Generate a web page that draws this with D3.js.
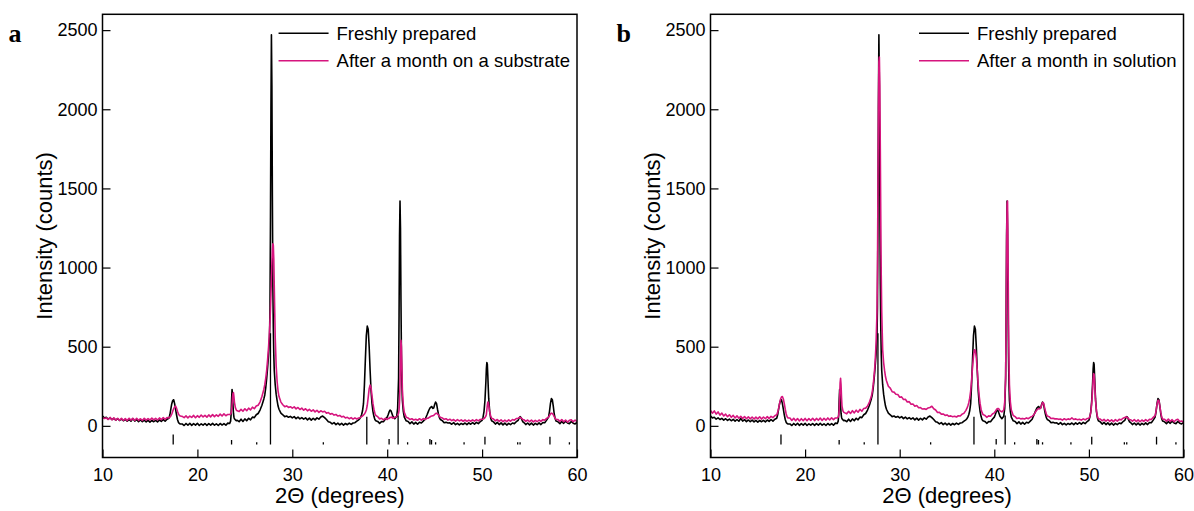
<!DOCTYPE html>
<html lang="en">
<head>
<meta charset="UTF-8">
<title>XRD patterns</title>
<script src="https://cdn.jsdelivr.net/npm/d3@7"></script>
<style>
  body { margin: 0; background: #fff; overflow: hidden; }
  svg { display: block; }
  text { font-family: "Liberation Sans", Arial, sans-serif; fill: #000; }
  .tick text { font-family: "Liberation Sans", Arial, sans-serif; font-size: 18px; }
  .tick line { stroke: #000; stroke-width: 1.2; }
  .domain { display: none; }
  .letter { font-family: "Liberation Serif", "Times New Roman", serif; font-weight: bold; font-size: 26px; }
</style>
</head>
<body>
<svg id="chart" width="1194" height="511"></svg>
<script>
// 2-theta grid, split in segments (finer steps across the peaks)
const twoTheta = [
  [10.0, 10.2, 10.4, 10.6, 10.8, 11.0, 11.2, 11.4, 11.6, 11.8, 12.0, 12.2, 12.4, 12.6, 12.8, 13.0, 13.2, 13.4, 13.6, 13.8, 14.0, 14.2, 14.4, 14.6, 14.8, 15.0, 15.2, 15.4, 15.6, 15.8, 16.0, 16.2, 16.4, 16.6, 16.8, 17.0],
  [17.1, 17.2, 17.3, 17.4, 17.5, 17.6, 17.7, 17.8, 17.9, 18.0, 18.1, 18.2],
  [18.4, 18.6, 18.8, 19.0, 19.2, 19.4, 19.6, 19.8, 20.0, 20.2, 20.4, 20.6, 20.8, 21.0, 21.2, 21.4, 21.6, 21.8, 22.0, 22.2, 22.4, 22.6, 22.8, 23.0, 23.2],
  [23.4, 23.5, 23.55, 23.6, 23.65, 23.7, 23.75, 23.8, 23.85, 23.9, 24.0, 24.1, 24.2],
  [24.4, 24.6, 24.8, 25.0, 25.2, 25.4, 25.6, 25.8, 26.0, 26.2, 26.4, 26.6, 26.8, 27.0],
  [27.1, 27.2, 27.3, 27.4, 27.5, 27.6, 27.65, 27.7, 27.75, 27.8, 27.85, 27.9, 27.95, 28.0, 28.05, 28.1, 28.2, 28.3, 28.4, 28.5, 28.6, 28.8],
  [29.0, 29.2, 29.4, 29.6, 29.8, 30.0, 30.2, 30.4, 30.6, 30.8, 31.0, 31.2, 31.4, 31.6, 31.8, 32.0, 32.2, 32.4, 32.6, 32.8, 33.0, 33.2, 33.4, 33.6, 33.8, 34.0, 34.2, 34.4, 34.6, 34.8, 35.0, 35.2, 35.4, 35.6, 35.8, 36.0, 36.2, 36.4, 36.6, 36.8, 37.0],
  [37.1, 37.2, 37.3, 37.4, 37.5, 37.6, 37.7, 37.8, 37.9, 38.0, 38.1, 38.2, 38.3, 38.4, 38.5, 38.6, 38.7, 38.8],
  [39.0, 39.2, 39.4, 39.6, 39.8, 40.0, 40.1, 40.2, 40.3, 40.4, 40.5, 40.6, 40.8, 41.0, 41.1, 41.2, 41.25, 41.3, 41.35, 41.4, 41.45, 41.5, 41.55, 41.6, 41.7, 41.8, 42.0],
  [42.2, 42.4, 42.6, 42.8, 43.0, 43.2, 43.4, 43.6, 43.8, 44.0, 44.2],
  [44.3, 44.4, 44.5, 44.6, 44.7, 44.8, 44.9, 45.0, 45.1, 45.2, 45.3, 45.4, 45.5, 45.6],
  [45.8, 46.0, 46.2, 46.4, 46.6, 46.8, 47.0, 47.2, 47.4, 47.6, 47.8, 48.0, 48.2, 48.4, 48.6, 48.8, 49.0, 49.2, 49.4, 49.6, 49.8, 50.0],
  [50.1, 50.2, 50.3, 50.4, 50.45, 50.5, 50.55, 50.6, 50.65, 50.7, 50.8, 50.9, 51.0],
  [51.2, 51.4, 51.6, 51.8, 52.0, 52.2, 52.4, 52.6, 52.8, 53.0, 53.2, 53.4, 53.6],
  [53.8, 53.9, 54.0, 54.1, 54.2, 54.3],
  [54.4, 54.6, 54.8, 55.0, 55.2, 55.4, 55.6, 55.8, 56.0, 56.2, 56.4, 56.6, 56.8, 57.0],
  [57.1, 57.2, 57.3, 57.4, 57.5, 57.6, 57.7, 57.8],
  [58.0, 58.2, 58.4, 58.6, 58.8, 59.0, 59.2, 59.4, 59.6, 59.8, 60.0]
];

const freshlyPrepared = [
  [62, 50, 54, 42, 50, 40, 47, 36, 45, 34, 43, 32, 41, 30, 40, 29, 46, 30, 39, 27, 37, 26, 36, 25, 35, 24, 34, 26, 35, 25, 37, 28, 40, 30, 42, 48],
  [70, 105, 140, 160, 165, 140, 105, 70, 40, 22, 15, 12],
  [12, 2, 15, 4, 16, 3, 14, 5, 16, 2, 13, 4, 15, 3, 14, 5, 16, 4, 13, 2, 15, 5, 14, 4, 17],
  [15, 30, 70, 160, 230, 200, 130, 80, 55, 45, 38, 32, 35],
  [26, 42, 28, 44, 32, 48, 38, 55, 52, 70, 78, 100, 130, 170],
  [195, 240, 300, 370, 450, 560, 750, 1300, 2000, 2470, 2150, 1450, 900, 620, 450, 350, 260, 200, 160, 125, 105, 80],
  [70, 58, 62, 54, 60, 50, 58, 46, 55, 44, 52, 42, 50, 38, 49, 36, 48, 38, 50, 42, 56, 62, 52, 40, 26, 22, 12, 20, 8, 17, 6, 16, 5, 15, 7, 17, 9, 18, 20, 30, 38],
  [45, 55, 70, 95, 140, 260, 420, 570, 630, 610, 500, 350, 220, 140, 90, 60, 40, 32],
  [28, 16, 27, 26, 42, 55, 70, 88, 100, 95, 78, 60, 45, 60, 110, 300, 700, 1200, 1420, 1250, 800, 450, 260, 160, 90, 55, 32],
  [28, 14, 25, 11, 22, 10, 23, 18, 30, 42, 70],
  [85, 100, 112, 118, 122, 110, 112, 135, 150, 140, 105, 75, 52, 40],
  [33, 20, 22, 18, 19, 10, 20, 8, 16, 6, 15, 9, 18, 8, 19, 10, 21, 11, 22, 14, 26, 35],
  [55, 90, 160, 280, 360, 400, 390, 320, 240, 170, 90, 50, 32],
  [25, 11, 22, 8, 19, 6, 17, 5, 16, 8, 18, 14, 26],
  [35, 50, 58, 52, 38, 25],
  [21, 8, 18, 6, 17, 5, 16, 7, 19, 8, 21, 20, 36, 55],
  [90, 140, 172, 165, 125, 75, 45, 30],
  [25, 14, 27, 16, 29, 18, 14, 28, 17, 12, 22]
];

const monthOnSubstrate = [
  [52, 46, 50, 40, 53, 38, 50, 36, 48, 35, 47, 34, 46, 33, 48, 36, 47, 34, 48, 35, 45, 34, 48, 36, 46, 37, 49, 38, 48, 37, 50, 39, 52, 41, 53, 50],
  [55, 62, 75, 92, 108, 120, 125, 112, 92, 75, 66, 62],
  [60, 52, 63, 50, 62, 53, 66, 51, 64, 54, 68, 56, 66, 55, 69, 57, 71, 58, 70, 60, 74, 62, 76, 64, 72],
  [72, 75, 80, 95, 130, 180, 205, 210, 185, 150, 115, 100, 95],
  [90, 104, 92, 108, 96, 112, 101, 118, 108, 125, 130, 150, 185, 230],
  [260, 300, 350, 420, 500, 600, 660, 740, 830, 930, 1030, 1110, 1150, 1140, 1050, 880, 560, 380, 280, 220, 185, 150],
  [133, 121, 126, 116, 121, 112, 120, 107, 116, 103, 112, 99, 108, 95, 104, 92, 101, 88, 98, 85, 95, 88, 92, 80, 84, 74, 78, 68, 72, 62, 66, 56, 60, 50, 54, 45, 52, 42, 50, 43, 50],
  [50, 55, 58, 62, 68, 75, 85, 100, 130, 180, 235, 258, 240, 190, 140, 105, 80, 65],
  [58, 44, 48, 38, 48, 40, 47, 46, 54, 53, 56, 48, 54, 58, 65, 80, 100, 150, 260, 420, 540, 500, 360, 230, 130, 85, 55],
  [50, 40, 45, 37, 42, 35, 45, 36, 46, 40, 48],
  [48, 52, 56, 60, 62, 64, 66, 72, 78, 80, 76, 68, 60, 54],
  [50, 41, 45, 36, 42, 33, 40, 30, 39, 31, 38, 29, 37, 28, 36, 29, 38, 30, 39, 31, 40, 42],
  [42, 46, 52, 62, 72, 100, 130, 150, 148, 130, 90, 62, 48],
  [43, 31, 40, 28, 38, 26, 36, 27, 38, 29, 40, 36, 46],
  [48, 52, 54, 50, 45, 40],
  [39, 28, 37, 26, 36, 25, 35, 26, 37, 28, 39, 36, 47, 55],
  [65, 75, 80, 78, 70, 58, 48, 40],
  [39, 28, 40, 26, 37, 24, 35, 38, 26, 36, 26]
];

const monthInSolution = [
  [98, 80, 94, 74, 88, 68, 80, 62, 74, 58, 70, 54, 66, 50, 63, 48, 60, 46, 59, 45, 57, 44, 56, 43, 55, 44, 57, 43, 56, 45, 58, 46, 60, 52, 64, 70],
  [85, 110, 140, 168, 182, 185, 170, 140, 105, 75, 58, 50],
  [50, 34, 48, 32, 46, 31, 45, 33, 47, 32, 46, 34, 48, 33, 47, 35, 49, 34, 48, 36, 50, 37, 51, 39, 50],
  [50, 55, 65, 100, 180, 270, 300, 260, 180, 125, 95, 85, 82],
  [76, 92, 78, 96, 82, 99, 86, 104, 92, 110, 112, 125, 150, 185],
  [215, 260, 320, 400, 520, 720, 1000, 1500, 2000, 2300, 2330, 2150, 1750, 1300, 950, 720, 480, 400, 350, 310, 285, 250],
  [238, 216, 213, 200, 198, 181, 183, 166, 168, 151, 153, 136, 138, 124, 128, 114, 115, 106, 108, 104, 113, 116, 124, 108, 100, 84, 85, 74, 75, 66, 69, 60, 63, 58, 61, 56, 64, 62, 74, 80, 98],
  [110, 125, 145, 175, 220, 290, 370, 440, 480, 478, 430, 350, 260, 190, 140, 105, 85, 72],
  [66, 54, 63, 61, 75, 82, 90, 100, 108, 110, 105, 95, 88, 100, 150, 320, 650, 1150, 1400, 1420, 1100, 700, 420, 260, 150, 100, 65],
  [58, 46, 50, 44, 47, 43, 50, 45, 54, 60, 72],
  [82, 92, 100, 106, 110, 108, 112, 130, 148, 145, 120, 95, 75, 62],
  [58, 46, 48, 44, 45, 41, 43, 36, 45, 38, 44, 40, 50, 40, 44, 39, 42, 36, 44, 38, 46, 48],
  [60, 85, 140, 240, 300, 330, 325, 280, 220, 160, 95, 60, 45],
  [43, 32, 41, 29, 40, 28, 38, 27, 39, 30, 41, 38, 48],
  [52, 56, 55, 50, 44, 40],
  [39, 29, 40, 27, 38, 26, 37, 28, 39, 30, 41, 40, 54, 65],
  [95, 135, 162, 160, 125, 85, 55, 42],
  [41, 30, 43, 28, 39, 26, 37, 42, 28, 31, 22]
];

// reference pattern sticks (position, relative intensity %)
const refAngles = [17.45, 23.6, 26.25, 27.7, 33.27, 37.85, 40.2, 41.15, 42.15, 44.5, 44.67, 45.1, 48.1, 50.3, 53.75, 54.0, 57.15, 59.2];
const refIntensity = [9, 4, 2, 100, 2, 25, 5, 26, 2, 5, 4, 2, 2, 7, 2, 2, 7, 2];

const xTicks = [10, 20, 30, 40, 50, 60];
const yTicks = [0, 500, 1000, 1500, 2000, 2500];
const freshLabel = "Freshly prepared";
const substrateLabel = "After a month on a substrate";
const solutionLabel = "After a month in solution";
const xTitle = "2\u0398 (degrees)";
const yTitle = "Intensity (counts)";

function zipSeries(values, name) {
  let out = [];
  twoTheta.forEach((seg, i) => {
    if (seg.length !== values[i].length) throw new Error(name + " segment " + i + ": " + values[i].length + " vs " + seg.length);
    seg.forEach((t, j) => out.push([t, values[i][j]]));
  });
  return out;
}

const fresh = zipSeries(freshlyPrepared, "fresh");
const substrate = zipSeries(monthOnSubstrate, "substrate");
const solution = zipSeries(monthInSolution, "solution");

const pink = "#d6157e";
const svg = d3.select("#chart");
const plotTop = 14.3, plotBottom = 457.5;

const panels = [
  {letter: "a", left: 102.5, right: 577, aged: substrate, label: substrateLabel, id: "clipA"},
  {letter: "b", left: 710.5, right: 1183.5, aged: solution, label: solutionLabel, id: "clipB"}
];

panels.forEach(p => {
  let x = d3.scaleLinear().domain([10, 60]).range([p.left, p.right]);
  let y = d3.scaleLinear().domain([-200, 2600]).range([plotBottom, plotTop]);
  let stick = d3.scaleLinear().domain([0, 100]).range([-118, 585]);
  let g = svg.append("g");

  svg.append("clipPath").attr("id", p.id)
      .append("rect")
      .attr("x", p.left).attr("y", plotTop)
      .attr("width", p.right - p.left).attr("height", plotBottom - plotTop);

  let plot = g.append("g").attr("clip-path", "url(#" + p.id + ")");
  let line = d3.line().x(d => x(d[0])).y(d => y(d[1]));

  plot.append("path").datum(fresh)
      .attr("d", line).attr("fill", "none")
      .attr("stroke", "#000").attr("stroke-width", 1.6).attr("stroke-linejoin", "round");
  plot.append("path").datum(p.aged)
      .attr("d", line).attr("fill", "none")
      .attr("stroke", pink).attr("stroke-width", 1.6).attr("stroke-linejoin", "round");

  plot.selectAll("line.ref")
      .data(refAngles)
      .join("line")
      .attr("class", "ref")
      .attr("x1", d => x(d)).attr("x2", d => x(d))
      .attr("y1", y(stick(0)))
      .attr("y2", (d, i) => y(stick(refIntensity[i])))
      .attr("stroke", "#000").attr("stroke-width", 1.3);

  g.append("g")
      .attr("transform", "translate(0," + plotBottom + ")")
      .call(d3.axisBottom(x).tickValues(xTicks).tickFormat(d3.format("d")).tickSize(-8).tickPadding(11));
  g.append("g")
      .attr("transform", "translate(" + p.left + ",0)")
      .call(d3.axisLeft(y).tickValues(yTicks).tickFormat(d3.format("d")).tickSize(-8).tickPadding(5));

  g.append("rect")
      .attr("x", p.left).attr("y", plotTop)
      .attr("width", p.right - p.left).attr("height", plotBottom - plotTop)
      .attr("fill", "none").attr("stroke", "#000").attr("stroke-width", 1.5);

  g.append("text")
      .attr("x", (p.left + p.right) / 2).attr("y", 503)
      .attr("text-anchor", "middle").style("font-size", "22px")
      .text(xTitle);
  g.append("text")
      .attr("transform", "translate(" + (p.left - 50.5) + "," + ((plotTop + plotBottom) / 2) + ") rotate(-90)")
      .attr("text-anchor", "middle").style("font-size", "22px")
      .text(yTitle);

  g.append("text").attr("class", "letter")
      .attr("x", p.left - 94).attr("y", 42)
      .text(p.letter);

  // legend, right aligned inside the frame
  let rows = [{label: freshLabel, color: "#000", y: 33.3}, {label: p.label, color: pink, y: 60.7}];
  let texts = rows.map(r => g.append("text")
      .attr("y", r.y + 6.5).style("font-size", "18.5px").text(r.label));
  let widest = d3.max(texts, t => t.node().getComputedTextLength());
  let textX = p.right - 7 - widest;
  texts.forEach(t => t.attr("x", textX));
  rows.forEach(r => g.append("line")
      .attr("x1", textX - 58).attr("x2", textX - 8)
      .attr("y1", r.y).attr("y2", r.y)
      .attr("stroke", r.color).attr("stroke-width", 1.5));
});
</script>
</body>
</html>
